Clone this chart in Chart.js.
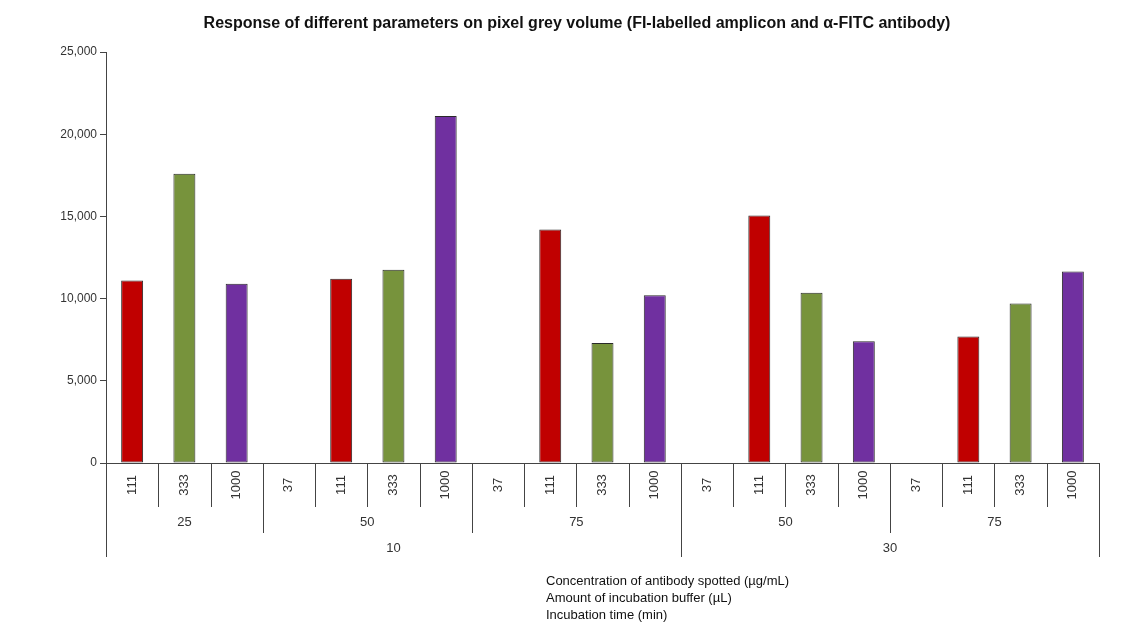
<!DOCTYPE html>
<html>
<head>
<meta charset="utf-8">
<script src="https://cdn.jsdelivr.net/npm/chart.js@4.4.0/dist/chart.umd.min.js"></script>
<style>
  html, body { margin: 0; padding: 0; background: #fff; }
  #wrap { width: 1135px; height: 623px; }
</style>
</head>
<body>
<div id="wrap"><canvas id="greyChart"></canvas></div>
<script>
// antibody concentration (first label row)
const concLabels = ['111', '333', '1000', '37', '111', '333', '1000', '37', '111', '333', '1000',
                    '37', '111', '333', '1000', '37', '111', '333', '1000'];
// pixel grey volume, null where no bar is drawn
const greyVolume = [11100, 17600, 10900, null, 11200, 11750, 21100, null, 14200, 7300, 10200,
                    null, 15050, 10350, 7400, null, 7700, 9700, 11650];
// incubation buffer (second row) and how many columns each covers
const bufferLabels = ['25', '50', '75', '50', '75'];
const bufferSpans = [3, 4, 4, 4, 4];
// incubation time (third row)
const timeLabels = ['10', '30'];
const timeSpans = [11, 8];

const axisTitles = ['Concentration of antibody spotted (\u00b5g/mL)', 'Amount of incubation buffer (\u00b5L)', 'Incubation time (min)'];
const titleText = 'Response of different parameters on pixel grey volume (FI-labelled amplicon and \u03b1-FITC antibody)';

const colorFor = { '111': '#C00000', '333': '#77933C', '1000': '#7030A0', '37': '#888888' };

const labelFont = '13px "Liberation Sans", Arial, sans-serif';

const hierarchyAxis = {
    id: 'hierarchyAxis',
    afterDraw(chart) {
        const ctx = chart.ctx;
        const x = chart.scales.x;
        const area = chart.chartArea;
        const y0 = area.bottom;
        const step = x.getPixelForValue(1) - x.getPixelForValue(0);
        const edge = i => x.getPixelForValue(i) - step / 2;

        ctx.save();
        ctx.strokeStyle = '#444';
        ctx.lineWidth = 1;
        ctx.fillStyle = '#333';
        ctx.font = labelFont;

        // separators: row lengths depend on level
        const drawSep = (px, len) => {
            ctx.beginPath();
            ctx.moveTo(Math.round(px) + 0.5, y0);
            ctx.lineTo(Math.round(px) + 0.5, y0 + len);
            ctx.stroke();
        };
        for (let i = 0; i <= concLabels.length; i++) drawSep(edge(i), 44);
        let pos = 0;
        bufferSpans.forEach(s => { drawSep(edge(pos), 70); pos += s; drawSep(edge(pos), 70); });
        pos = 0;
        timeSpans.forEach(s => { drawSep(edge(pos), 94); pos += s; drawSep(edge(pos), 94); });

        // first row, rotated
        concLabels.forEach((lab, i) => {
            ctx.save();
            ctx.translate(x.getPixelForValue(i), y0 + 22);
            ctx.rotate(-Math.PI / 2);
            ctx.textAlign = 'center';
            ctx.textBaseline = 'middle';
            ctx.fillText(lab, 0, 0);
            ctx.restore();
        });

        ctx.textAlign = 'center';
        ctx.textBaseline = 'middle';
        pos = 0;
        bufferLabels.forEach((lab, k) => {
            const mid = (edge(pos) + edge(pos + bufferSpans[k])) / 2;
            ctx.fillText(lab, mid, y0 + 59);
            pos += bufferSpans[k];
        });
        pos = 0;
        timeLabels.forEach((lab, k) => {
            const mid = (edge(pos) + edge(pos + timeSpans[k])) / 2;
            ctx.fillText(lab, mid, y0 + 85);
            pos += timeSpans[k];
        });

        // axis titles
        ctx.textAlign = 'left';
        ctx.fillStyle = '#111';
        axisTitles.forEach((t, k) => ctx.fillText(t, 546, 581 + k * 17));

        // chart title
        ctx.textAlign = 'center';
        ctx.font = 'bold 16px "Liberation Sans", Arial, sans-serif';
        ctx.fillText(titleText, 577, 24);
        ctx.restore();
    }
};

new Chart(document.getElementById('greyChart').getContext('2d'), {
    type: 'bar',
    data: {
        labels: concLabels,
        datasets: [{
            data: greyVolume,
            backgroundColor: concLabels.map(c => colorFor[c]),
            borderColor: '#2a2a2a',
            borderWidth: 1,
            borderSkipped: false,
            barPercentage: 0.42,
            categoryPercentage: 1
        }]
    },
    options: {
        responsive: true,
        maintainAspectRatio: false,
        animation: false,
        layout: { padding: { top: 52, right: 36, bottom: 152, left: 0 } },
        plugins: { legend: { display: false }, tooltip: { enabled: false } },
        scales: {
            x: {
                ticks: { display: false },
                grid: { display: false },
                border: { display: true, color: '#444' }
            },
            y: {
                min: 0,
                max: 25000,
                afterFit: s => { s.width = 106; },
                ticks: {
                    stepSize: 5000,
                    color: '#333',
                    font: { family: '"Liberation Sans", Arial, sans-serif', size: 12 },
                    callback: v => v.toLocaleString('en-US')
                },
                grid: { drawOnChartArea: false, drawTicks: true, tickLength: 6, color: '#444' },
                border: { display: true, color: '#444' }
            }
        }
    },
    plugins: [hierarchyAxis]
});
</script>
</body>
</html>
